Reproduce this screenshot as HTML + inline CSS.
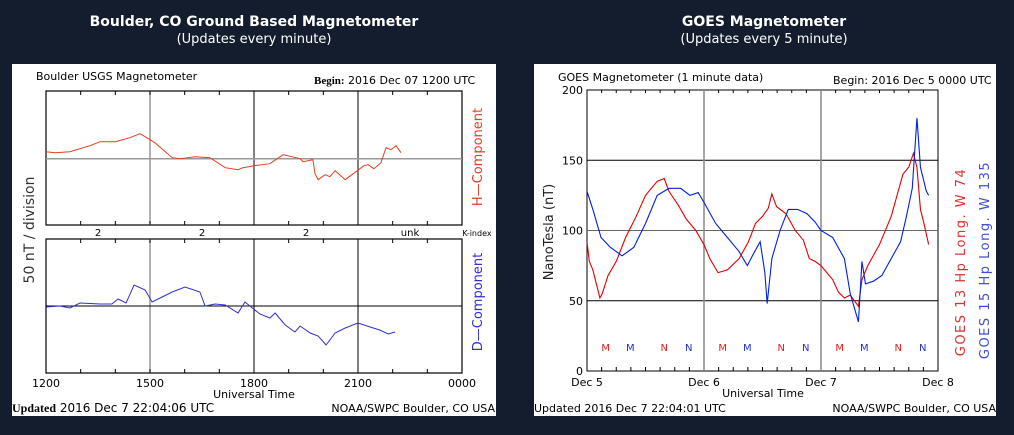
<!DOCTYPE html>
<html><head><meta charset="utf-8"><style>
html,body{margin:0;padding:0;background:#131d2e;width:1014px;height:435px;overflow:hidden}
svg{display:block}
text{font-family:"DejaVu Sans","Liberation Sans",sans-serif}
</style></head><body>
<svg id="s" width="1014" height="435" viewBox="0 0 1014 435">
<rect x="0" y="0" width="1014" height="435" fill="#131d2e"/>
<g fill="#fff" text-anchor="middle">
<text x="254" y="26" font-size="14" font-weight="bold">Boulder, CO Ground Based Magnetometer</text>
<text x="254" y="43" font-size="13">(Updates every minute)</text>
<text x="764" y="26" font-size="14" font-weight="bold">GOES Magnetometer</text>
<text x="764" y="43" font-size="13">(Updates every 5 minute)</text>
</g>
<rect x="12" y="64" width="484" height="352" fill="#fff"/>
<rect x="534" y="64" width="462" height="352" fill="#fff"/>
<g id="left"></g>
<g id="right"></g>
</svg>
<script>
// ---- Boulder data (hours UTC, offset units ~px above baseline) ----
const hHours=[12,12.26,12.69,13.27,13.56,14.0,14.42,14.71,14.86,15.14,15.64,15.87,16.3,16.73,17.17,17.54,17.68,18.0,18.46,18.84,19.33,19.41,19.7,19.76,19.85,20.05,20.19,20.34,20.63,20.94,21.17,21.29,21.46,21.66,21.81,21.95,22.1,22.24];
const hVals=[7,6,7,13,17,17,21,25,22,16,1,0,2,1,-9,-11,-9,-7,-5,4,0,-3,-1,-15,-21,-16,-18,-12,-21,-13,-7,-6,-10,-4,11,9,13,6];
const dHours=[12,12.4,12.69,12.98,13.56,13.9,14.08,14.31,14.54,14.86,15.06,15.35,15.64,16.01,16.44,16.59,16.88,17.17,17.54,17.74,17.88,18.17,18.46,18.61,18.9,19.18,19.33,19.62,19.85,20.08,20.34,20.63,21.0,21.35,21.63,21.87,22.07];
const dVals=[-1,0,-2,3,2,2,7,3,21,16,4,9,14,19,14,0,2,1,-7,4,0,-8,-12,-7,-19,-26,-20,-27,-30,-39,-27,-22,-17,-21,-24,-28,-26];
const kLabels=["2","2","2","unk"];
const lxTicks=["1200","1500","1800","2100","0000"];
// ---- GOES data (days since Dec 5 0000, nT) ----
const rDays=[0,0.02,0.05,0.08,0.11,0.13,0.18,0.25,0.33,0.42,0.5,0.6,0.66,0.7,0.78,0.85,0.93,1.0,1.05,1.12,1.2,1.3,1.38,1.44,1.5,1.55,1.58,1.62,1.7,1.78,1.85,1.9,1.95,2.0,2.1,2.15,2.2,2.25,2.32,2.35,2.4,2.5,2.6,2.65,2.7,2.75,2.79,2.82,2.85,2.88,2.92];
const rVals=[92,78,72,62,52,55,68,78,95,110,125,135,137,128,118,108,100,90,80,70,72,80,92,105,110,116,126,117,112,100,93,80,78,75,65,56,52,54,46,65,75,90,110,125,140,145,155,145,115,105,90];
const bDays=[0,0.05,0.12,0.2,0.3,0.4,0.5,0.6,0.7,0.8,0.88,0.95,1.0,1.1,1.2,1.3,1.37,1.42,1.48,1.52,1.54,1.58,1.65,1.72,1.8,1.88,1.95,2.0,2.1,2.2,2.25,2.32,2.35,2.38,2.45,2.52,2.6,2.68,2.73,2.78,2.82,2.85,2.9,2.92];
const bVals=[128,115,95,88,82,88,105,125,130,130,125,127,120,105,95,85,75,83,92,70,48,80,100,115,115,112,106,100,95,80,55,35,78,62,64,68,80,92,110,130,180,145,128,125];
const gYTicks=[0,50,100,150,200];
const gXTicks=["Dec 5","Dec 6","Dec 7","Dec 8"];
const mnLabels=["M","M","N","N","M","M","N","N","M","M","N","N"];
const mnDays=[0.16,0.37,0.66,0.87,1.16,1.37,1.66,1.87,2.16,2.37,2.66,2.87];

const NS='http://www.w3.org/2000/svg';
function mk(parent,tag,attrs,txt){const e=document.createElementNS(NS,tag);for(const k in attrs)e.setAttribute(k,attrs[k]);if(txt!==undefined)e.textContent=txt;parent.appendChild(e);return e;}

// ---------- LEFT ----------
const L=document.getElementById('left');
const lx0=46,lx1=462;
const lx=h=>lx0+(h-12)/12*(lx1-lx0);
const hTop=91,hBot=225,hMid=158.7,dTop=239,dBot=373,dMid=306;
let t;
t=mk(L,'text',{x:36,y:80,'font-size':11,fill:'#000'},'Boulder USGS Magnetometer');


t=mk(L,'text',{x:314,y:84,'font-size':11,fill:'#000'});
t.innerHTML='<tspan font-weight="bold" font-family="Liberation Serif">Begin:</tspan>  2016 Dec 07 1200 UTC';


[[hTop,hBot,'h-plot'],[dTop,dBot,'d-plot']].forEach(([a,b,n])=>{
  const r=mk(L,'rect',{x:lx0,y:a,width:lx1-lx0,height:b-a,fill:'none',stroke:'#000','stroke-width':1.2});
  
  
  [15,18,21].forEach((h,i)=>mk(L,'line',{x1:lx(h),x2:lx(h),y1:a,y2:b,stroke:i==0?'#999':'#000','stroke-width':i==0?1.5:1}));
  for(let h=13;h<24;h++){mk(L,'line',{x1:lx(h),x2:lx(h),y1:a,y2:a+4,stroke:'#000'});mk(L,'line',{x1:lx(h),x2:lx(h),y1:b,y2:b-4,stroke:'#000'});}
});
mk(L,'line',{x1:lx0,x2:lx1,y1:hMid,y2:hMid,stroke:'#999','stroke-width':1.5});
mk(L,'line',{x1:lx0,x2:lx1,y1:dMid,y2:dMid,stroke:'#000','stroke-width':1});
let p=mk(L,'polyline',{points:hHours.map((h,i)=>lx(h)+','+(hMid-hVals[i])).join(' '),fill:'none',stroke:'#e04020','stroke-width':1});


p=mk(L,'polyline',{points:dHours.map((h,i)=>lx(h)+','+(dMid-dVals[i])).join(' '),fill:'none',stroke:'#3030d0','stroke-width':1});


kLabels.forEach((k,i)=>{const e=mk(L,'text',{x:lx(13.5+3*i),y:236,'font-size':10,'text-anchor':'middle'},k);

});
t=mk(L,'text',{x:477,y:236,'font-size':8,'text-anchor':'middle'},'K-index');


lxTicks.forEach((s,i)=>{const e=mk(L,'text',{x:lx(12+3*i),y:387,'font-size':11,'text-anchor':'middle'},s);

});
t=mk(L,'text',{x:254,y:398,'font-size':11,'text-anchor':'middle'},'Universal Time');


t=mk(L,'text',{x:12,y:412,'font-size':12});
t.innerHTML='<tspan font-weight="bold" font-family="Liberation Serif">Updated</tspan> 2016 Dec  7 22:04:06 UTC';


t=mk(L,'text',{x:495,y:412,'font-size':11,'text-anchor':'end'},'NOAA/SWPC Boulder, CO USA');


t=mk(L,'text',{x:0,y:0,'font-size':14,'text-anchor':'middle',transform:'translate(34,230) rotate(-90)',fill:'#333'},'50 nT / division');


t=mk(L,'text',{x:0,y:0,'font-size':13,'text-anchor':'middle',transform:'translate(482,157) rotate(-90)',fill:'#e04020'},'H\u2014Component');


t=mk(L,'text',{x:0,y:0,'font-size':13,'text-anchor':'middle',transform:'translate(482,302) rotate(-90)',fill:'#3030d0'},'D\u2014Component');



// ---------- RIGHT ----------
const R=document.getElementById('right');
const gx0=587,gx1=938,gyTop=90,gyBot=371;
const gx=d=>gx0+d/3*(gx1-gx0);
const gy=v=>gyBot-v/200*(gyBot-gyTop);
t=mk(R,'text',{x:558,y:81,'font-size':11},'GOES Magnetometer (1 minute data)');


t=mk(R,'text',{x:833,y:84,'font-size':11},'Begin:  2016 Dec 5 0000 UTC');


const fr=mk(R,'rect',{x:gx0,y:gyTop,width:gx1-gx0,height:gyBot-gyTop,fill:'none',stroke:'#000','stroke-width':1});


[50,100,150].forEach(v=>mk(R,'line',{x1:gx0,x2:gx1,y1:gy(v),y2:gy(v),stroke:v==100?'#666':'#000','stroke-width':1}));
[1,2].forEach(d=>mk(R,'line',{x1:gx(d),x2:gx(d),y1:gyTop,y2:gyBot,stroke:'#888','stroke-width':1.5}));
for(let i=1;i<24;i++){if(i%8==0)continue;const x=gx(i/8);mk(R,'line',{x1:x,x2:x,y1:gyTop,y2:gyTop+3,stroke:'#000'});mk(R,'line',{x1:x,x2:x,y1:gyBot,y2:gyBot-4,stroke:'#000'});}
gYTicks.forEach(v=>{const e=mk(R,'text',{x:583,y:gy(v)+4,'font-size':11,'text-anchor':'end'},String(v));

});
gXTicks.forEach((s,i)=>{const e=mk(R,'text',{x:gx(i),y:386,'font-size':11,'text-anchor':'middle'},s);

});
t=mk(R,'text',{x:763,y:397,'font-size':11,'text-anchor':'middle'},'Universal Time');


p=mk(R,'polyline',{points:rDays.map((d,i)=>gx(d)+','+gy(rVals[i])).join(' '),fill:'none',stroke:'#e00000','stroke-width':1.1});


p=mk(R,'polyline',{points:bDays.map((d,i)=>gx(d)+','+gy(bVals[i])).join(' '),fill:'none',stroke:'#0020e0','stroke-width':1.1});


mnLabels.forEach((s,i)=>{const e=mk(R,'text',{x:gx(mnDays[i]),y:351,'font-size':10,'text-anchor':'middle',fill:i%2==0?'#e02020':'#2030d0'},s);

});
t=mk(R,'text',{x:0,y:0,'font-size':13,'text-anchor':'middle',transform:'translate(553,232) rotate(-90)',fill:'#222'},'NanoTesla (nT)');


t=mk(R,'text',{x:0,y:0,'font-size':13,'letter-spacing':'1.5','text-anchor':'middle',transform:'translate(965,262) rotate(-90)',fill:'#e03030'},'GOES 13 Hp  Long. W 74');


t=mk(R,'text',{x:0,y:0,'font-size':13,'letter-spacing':'1.5','text-anchor':'middle',transform:'translate(989,260) rotate(-90)',fill:'#4050d0'},'GOES 15 Hp  Long. W 135');


t=mk(R,'text',{x:534,y:412,'font-size':11},'Updated 2016 Dec  7 22:04:01 UTC');


t=mk(R,'text',{x:996,y:412,'font-size':11,'text-anchor':'end'},'NOAA/SWPC Boulder, CO USA');


</script>
</body></html>
